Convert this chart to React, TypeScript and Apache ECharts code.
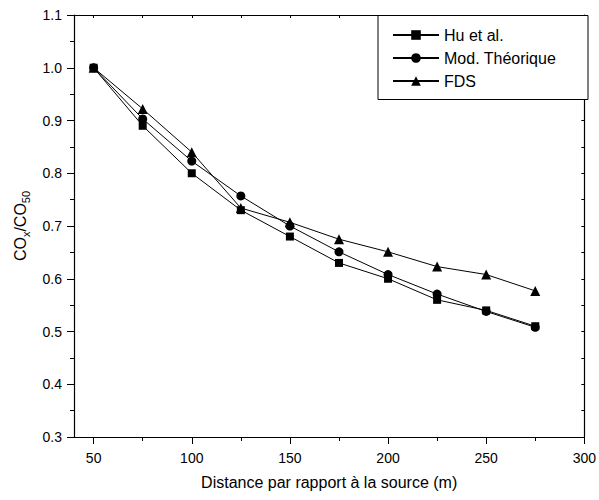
import React, { useEffect, useRef } from "react";
import * as echarts from "echarts";

const distances = [50, 75, 100, 125, 150, 175, 200, 225, 250, 275];
const huValues = [1.0, 0.89, 0.8, 0.73, 0.68, 0.63, 0.6, 0.56, 0.54, 0.51];
const modValues = [1.0, 0.903, 0.823, 0.757, 0.7, 0.651, 0.608, 0.571, 0.538, 0.508];
const fdsValues = [1.0, 0.922, 0.84, 0.734, 0.707, 0.675, 0.651, 0.623, 0.608, 0.577];
const seriesNames = ["Hu et al.", "Mod. Théorique", "FDS"];

const xMajorTicks = [50, 100, 150, 200, 250, 300];
const xMinorTicks = [75, 125, 175, 225, 275];
const xAllTicks = [50, 75, 100, 125, 150, 175, 200, 225, 250, 275, 300];
const yMajorTicks = [0.3, 0.4, 0.5, 0.6, 0.7, 0.8, 0.9, 1.0, 1.1];
const yMinorTicks = [0.35, 0.45, 0.55, 0.65, 0.75, 0.85, 0.95, 1.05];
const yAllTicks = [0.3, 0.35, 0.4, 0.45, 0.5, 0.55, 0.6, 0.65, 0.7, 0.75, 0.8, 0.85, 0.9, 0.95, 1.0, 1.05, 1.1];

const FONT = "'Liberation Sans', Arial, sans-serif";
const BLACK = "#000";

export default function App() {
  const ref = useRef<HTMLDivElement>(null);

  useEffect(() => {
    if (!ref.current) return;
    const chart = echarts.init(ref.current, null, { renderer: "svg" });

    const axisLine = { show: true, lineStyle: { color: BLACK, width: 1.2 } };
    const xBase = { type: "value", min: 40, max: 300, gridIndex: 0, splitLine: { show: false } };
    const yBase = { type: "value", min: 0.3, max: 1.1, gridIndex: 0, splitLine: { show: false } };

    const pairs = (vals: number[]) => distances.map((d, i) => [d, vals[i]]);
    const mk = (name: string, vals: number[], symbol: string, size: number) => ({
      name,
      type: "line",
      xAxisIndex: 0,
      yAxisIndex: 0,
      data: pairs(vals),
      symbol,
      symbolSize: size,
      showSymbol: true,
      color: BLACK,
      itemStyle: { color: BLACK },
      lineStyle: { color: BLACK, width: 1 },
      emphasis: { disabled: true },
    });

    chart.setOption({
      animation: false,
      textStyle: { fontFamily: FONT },
      grid: { left: 74, top: 15, width: 514, height: 422, containLabel: false },
      xAxis: [
        {
          ...xBase,
          position: "bottom",
          axisLine,
          axisTick: { show: true, inside: false, length: 7, customValues: xMajorTicks, lineStyle: { color: BLACK, width: 1 } },
          axisLabel: { show: true, customValues: xMajorTicks, fontSize: 14, color: BLACK, fontFamily: FONT, margin: 14 },
          name: "Distance par rapport à la source (m)",
          nameLocation: "middle",
          nameGap: 37,
          nameTextStyle: { fontSize: 16, color: BLACK, fontFamily: FONT },
        },
        {
          ...xBase,
          position: "bottom",
          axisLine: { show: false },
          axisTick: { show: true, inside: false, length: 4, customValues: xMinorTicks, lineStyle: { color: BLACK, width: 1 } },
          axisLabel: { show: false },
        },
        {
          ...xBase,
          position: "top",
          axisLine,
          axisTick: { show: true, inside: true, length: 3, customValues: xAllTicks, lineStyle: { color: BLACK, width: 1 } },
          axisLabel: { show: false },
        },
      ],
      yAxis: [
        {
          ...yBase,
          position: "left",
          axisLine,
          axisTick: { show: true, inside: false, length: 7, customValues: yMajorTicks, lineStyle: { color: BLACK, width: 1 } },
          axisLabel: {
            show: true,
            customValues: yMajorTicks,
            fontSize: 14,
            color: BLACK,
            fontFamily: FONT,
            margin: 12,
            formatter: (v: number) => v.toFixed(1),
          },
          name: "{a|CO}{b|x}{a|/CO}{b|50}",
          nameLocation: "middle",
          nameRotate: 90,
          nameGap: 42,
          nameTextStyle: {
            rich: {
              a: { fontSize: 16, color: BLACK, fontFamily: FONT, verticalAlign: "middle", lineHeight: 22 },
              b: { fontSize: 11, color: BLACK, fontFamily: FONT, verticalAlign: "bottom", lineHeight: 12 },
            },
          },
        },
        {
          ...yBase,
          position: "left",
          axisLine: { show: false },
          axisTick: { show: true, inside: false, length: 4, customValues: yMinorTicks, lineStyle: { color: BLACK, width: 1 } },
          axisLabel: { show: false },
        },
        {
          ...yBase,
          position: "right",
          axisLine,
          axisTick: { show: true, inside: true, length: 3, customValues: yAllTicks, lineStyle: { color: BLACK, width: 1 } },
          axisLabel: { show: false },
        },
      ],
      legend: {
        show: true,
        data: seriesNames,
        orient: "vertical",
        left: 392,
        top: 27,
        padding: 0,
        itemWidth: 46,
        itemHeight: 12,
        itemGap: 7,
        selectedMode: false,
        z: 10,
        textStyle: { fontSize: 16, color: BLACK, fontFamily: FONT },
      },
      graphic: [
        {
          type: "rect",
          z: 5,
          shape: { x: 378, y: 15.5, width: 210, height: 84 },
          style: { fill: "#fff", stroke: BLACK, lineWidth: 1 },
        },
      ],
      series: [
        mk(seriesNames[0], huValues, "rect", 8),
        mk(seriesNames[1], modValues, "circle", 9),
        mk(seriesNames[2], fdsValues, "triangle", 10),
      ],
    });

    return () => chart.dispose();
  }, []);

  return (
    <div
      ref={ref}
      style={{ position: "fixed", left: 0, top: 0, width: 599, height: 500, background: "#fff" }}
    />
  );
}
